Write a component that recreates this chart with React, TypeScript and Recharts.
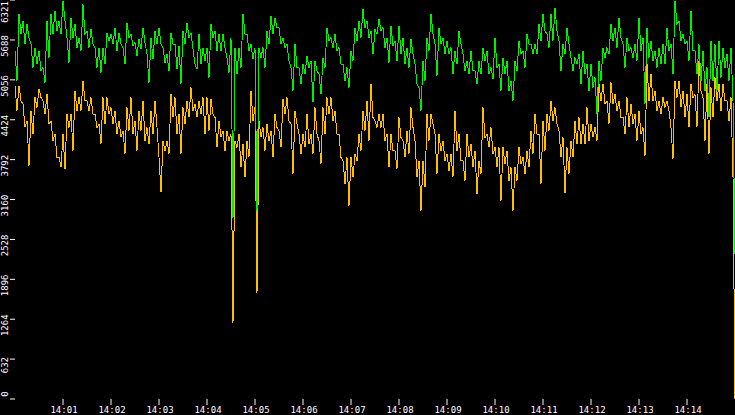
import { LineChart, Line, XAxis, YAxis } from 'recharts';

// two readings per 5-second slot (at +0s and +2.5s), starting at 14:00:00
const stepSeconds = 5;

const minuteTicks = [60, 120, 180, 240, 300, 360, 420, 480, 540, 600, 660, 720, 780, 840];
const minuteLabels = ['14:01', '14:02', '14:03', '14:04', '14:05', '14:06', '14:07', '14:08', '14:09', '14:10', '14:11', '14:12', '14:13', '14:14'];
const valueTicks = [0, 632, 1264, 1896, 2528, 3160, 3792, 4424, 5056, 5688, 6321];

const greenA = [
  5515, 6094, 5989, 5936, 5620, 5567, 5515, 5251, 5989, 6094,
  6147, 5989, 6305, 5725, 6042, 5936, 5725, 6252, 5831, 5857,
  5567, 5567, 5567, 5804, 5778, 5883, 5804, 5567, 5962, 5778,
  5646, 5699, 5883, 5462, 5725, 5831, 5883, 5567, 5462, 5804,
  5620, 5594, 5831, 5962, 5804, 5304, 5778, 5567, 5567, 5936,
  5831, 5778, 5778, 5409, 5725, 5567, 5567, 6094, 5778, 5620,
  5567, 5567, 5567, 5831, 6068, 6042, 5883, 5725, 5620, 5251,
  5620, 5251, 5304, 5435, 5356, 5356, 5146, 5409, 5883, 5725,
  5778, 5567, 5304, 5251, 5515, 5883, 5989, 6173, 5989, 5831,
  5857, 6015, 5883, 5725, 5910, 5673, 5910, 5725, 5567, 5699,
  5304, 4935, 5356, 5725, 6094, 5620, 5883, 5725, 5673, 5567,
  5515, 5831, 5462, 5356, 5515, 5198, 5356, 5567, 5515, 5251,
  5725, 5304, 5409, 5356, 5040, 5356, 5673, 5515, 5778, 5620,
  5620, 5936, 6094, 5778, 6094, 6200, 5673, 5620, 5883, 5409,
  5409, 5462, 5515, 5304, 5304, 5093, 5356, 5567, 5567, 5936,
  5883, 6042, 5620, 5725, 5567, 5620, 6042, 5725, 5883, 5673,
  5515, 5567, 5620, 5883, 5620, 6305, 5989, 5778, 5673, 6147,
  5515, 5620, 5515, 5251, 5673, 5620, 5673, 5567, 5462, 5567,
];

const greenB = [
  5040, 5778, 5620, 5725, 5251, 5304, 5198, 5014, 5409, 5778,
  5831, 5778, 5989, 5330, 5725, 5567, 5515, 5778, 5567, 5620,
  5251, 5172, 5304, 5673, 5620, 5515, 5620, 5304, 5725, 5594,
  5435, 5541, 5646, 5014, 5383, 5620, 5620, 5330, 5198, 5620,
  5225, 4988, 5620, 5725, 5541, 5225, 5304, 5356, 5093, 5725,
  5515, 5515, 5567, 5172, 2860, 5146, 5251, 5778, 5515, 5383,
  2985, 5409, 5251, 5620, 5778, 5883, 5620, 5567, 5356, 4882,
  5251, 4988, 5146, 5251, 4698, 5198, 4829, 5251, 5673, 5567,
  5515, 5304, 5040, 4935, 5356, 5673, 5725, 5883, 5725, 5462,
  5778, 5831, 5567, 5330, 5594, 5356, 5462, 5304, 5251, 5462,
  4988, 4566, 5040, 5515, 5778, 5119, 5620, 5462, 5462, 5146,
  5304, 5620, 5198, 5146, 5198, 4988, 5146, 5356, 5146, 5067,
  5251, 4882, 5146, 4882, 4724, 5198, 5462, 5251, 5620, 5462,
  5462, 5673, 5831, 5567, 5673, 5831, 5198, 5462, 5620, 5198,
  5304, 4988, 5146, 4882, 4935, 4513, 5040, 5409, 5462, 5673,
  5567, 5725, 5251, 5515, 5409, 5356, 5515, 4671, 5409, 5356,
  5251, 5304, 5304, 5515, 5146, 5936, 5673, 5620, 5356, 5515,
  5146, 5040, 4882, 4461, 5040, 4882, 5093, 5251, 5040, 4724,
];

const yellowA = [
  4961, 4961, 4671, 4408, 4566, 4777, 4908, 4724, 4829, 4408,
  4197, 3828, 4197, 4513, 4513, 4882, 4777, 5040, 4724, 4777,
  4513, 4355, 4777, 4777, 4619, 4566, 4408, 4250, 4619, 4777,
  4408, 4566, 4724, 4302, 4566, 4724, 3828, 4092, 4092, 4829,
  4777, 4513, 4619, 4724, 4935, 4671, 4724, 4777, 4777, 4750,
  4461, 4408, 4250, 4250, 4197, 4092, 4197, 4039, 4092, 4882,
  4619, 4408, 4302, 4355, 4250, 4513, 4250, 4750, 4777, 4355,
  4566, 4197, 4197, 4513, 4197, 4619, 4092, 4619, 4777, 4777,
  4566, 4197, 3775, 3828, 3828, 3881, 4197, 4566, 4724, 4988,
  4408, 4513, 4513, 4197, 4197, 3934, 4461, 4092, 4250, 4619,
  4092, 3775, 3775, 4513, 4513, 4197, 4197, 4092, 3881, 3881,
  4566, 4197, 3775, 4197, 4039, 3934, 3775, 4619, 4197, 4302,
  3986, 3986, 3986, 3934, 3670, 3670, 3986, 3828, 3934, 4250,
  4513, 4197, 4408, 4513, 4724, 4619, 4250, 4144, 3986, 4092,
  4408, 4461, 4355, 4619, 4355, 4302, 4988, 4988, 4724, 5014,
  4829, 4724, 4461, 4777, 4671, 4513, 4566, 4302, 5304, 5146,
  4882, 4724, 4777, 4724, 4302, 5040, 5040, 4882, 4829, 4988,
  4829, 5356, 4777, 4988, 4935, 5093, 4988, 4988, 4724, 4777,
];

const yellowB = [
  4566, 4724, 4302, 3696, 4197, 4619, 4777, 4513, 4355, 4092,
  3828, 3670, 3644, 4302, 3934, 4566, 4566, 4724, 4566, 4513,
  4302, 4039, 4355, 4513, 4355, 4197, 4144, 3881, 4250, 4197,
  3934, 4250, 4092, 4039, 4197, 4302, 3275, 3934, 3881, 4461,
  4197, 3881, 4355, 4461, 4566, 4461, 4513, 4197, 4250, 4513,
  3986, 4144, 3934, 4092, 1201, 3986, 3670, 3512, 3828, 4408,
  1675, 4144, 3934, 4092, 3828, 4302, 3986, 4513, 4408, 3565,
  4355, 3881, 3986, 4039, 3881, 4197, 3723, 4197, 4513, 4408,
  4197, 3828, 3407, 3064, 3512, 3775, 3934, 4250, 4092, 4461,
  4302, 4302, 4092, 3670, 3934, 3644, 4144, 3828, 3881, 4302,
  3512, 2985, 3354, 4092, 4355, 3565, 3934, 3775, 3617, 3512,
  3934, 3775, 3459, 3828, 3670, 3248, 3565, 4144, 3986, 3881,
  3670, 3143, 3723, 3459, 2985, 3459, 3723, 3565, 3670, 3881,
  4197, 3407, 3934, 4250, 4408, 4355, 3828, 3259, 3565, 3828,
  4039, 4039, 4039, 4092, 4144, 4092, 4724, 4671, 4355, 4671,
  4566, 4461, 4197, 4302, 4355, 4092, 4197, 3854, 4724, 4724,
  4566, 4513, 4619, 4566, 3802, 4777, 4619, 4461, 4302, 4777,
  4302, 4882, 4092, 3881, 4461, 4724, 4566, 4724, 4408, 3512,
];

// reading at 14:15:00
const greenLast = 2300;
const yellowLast = 0;

const chartData: { t: number; green: number; yellow: number }[] = [];
greenA.forEach((g, i) => {
  chartData.push({ t: i * stepSeconds, green: g, yellow: yellowA[i] });
  chartData.push({ t: i * stepSeconds + stepSeconds / 2, green: greenB[i], yellow: yellowB[i] });
});
chartData.push({ t: greenA.length * stepSeconds, green: greenLast, yellow: yellowLast });

const font = '"DejaVu Sans Mono", monospace';

const YTick = (props: any) => {
  const { y, payload } = props;
  const cy = Math.min(Math.max(y + 6, 12), 394);
  return (
    <g>
      <line x1={10} x2={15} y1={y} y2={y} stroke="#fff" />
      <text
        transform={`translate(8, ${cy}) rotate(-90)`}
        textAnchor="middle"
        fill="#fff"
        fontSize={9}
        fontFamily={font}
      >
        {payload.value}
      </text>
    </g>
  );
};

const XTick = (props: any) => {
  const { x, payload } = props;
  const label = minuteLabels[minuteTicks.indexOf(payload.value)];
  return (
    <g>
      <line x1={x} x2={x} y1={399} y2={405} stroke="#fff" />
      <text x={x + 1} y={413} textAnchor="middle" fill="#fff" fontSize={9} fontFamily={font}>
        {label}
      </text>
    </g>
  );
};

export default function App() {
  return (
    <div style={{ width: 735, height: 415, background: '#000' }}>
      <style>{'body{margin:0;background:#000}'}</style>
      <LineChart width={735} height={415} data={chartData} margin={{ top: 0, right: 0, bottom: 0, left: 0 }}>
        <XAxis
          dataKey="t"
          type="number"
          domain={[0, 900]}
          ticks={minuteTicks}
          interval={0}
          height={16}
          axisLine={false}
          tickLine={false}
          tick={(p: any) => <XTick {...p} />}
        />
        <YAxis
          type="number"
          domain={[0, 6321]}
          ticks={valueTicks}
          interval={0}
          width={15}
          axisLine={false}
          tickLine={false}
          tick={(p: any) => <YTick {...p} />}
        />
        <Line
          type="linear"
          dataKey="yellow"
          stroke="#ffc000"
          strokeWidth={1}
          dot={false}
          shapeRendering="crispEdges"
          isAnimationActive={false}
        />
        <Line
          type="linear"
          dataKey="green"
          stroke="#00f000"
          strokeWidth={1}
          dot={false}
          shapeRendering="crispEdges"
          isAnimationActive={false}
        />
      </LineChart>
    </div>
  );
}
